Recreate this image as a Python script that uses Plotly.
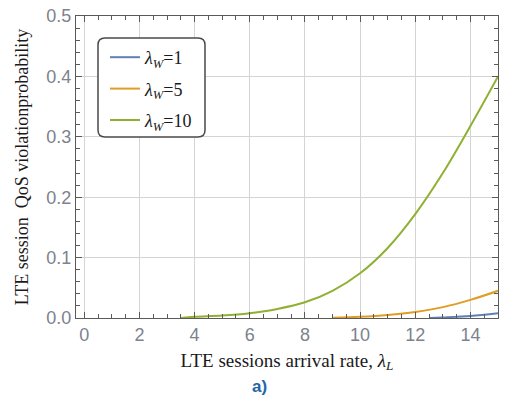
import plotly.graph_objects as go

# ---- data ----
green_x = [3.5, 4, 5, 6, 7, 8, 9, 10, 11, 12, 13, 14, 15]
green_y = [0.0, 0.002, 0.004, 0.008, 0.015, 0.026, 0.045, 0.074, 0.116, 0.172, 0.240, 0.318, 0.400]
orange_x = [9, 10, 11, 12, 13, 14, 15]
orange_y = [0.0003, 0.002, 0.005, 0.010, 0.018, 0.030, 0.045]
blue_x = [12.5, 13, 14, 15]
blue_y = [0.0, 0.001, 0.0035, 0.008]

series_names = ["<i>λ<sub>W</sub></i>=1", "<i>λ<sub>W</sub></i>=5", "<i>λ<sub>W</sub></i>=10"]
series_colors = ["#5E81B5", "#E19C24", "#8FB032"]
x_ticks = [0, 2, 4, 6, 8, 10, 12, 14]
x_labels = ["0", "2", "4", "6", "8", "10", "12", "14"]
y_ticks = [0.0, 0.1, 0.2, 0.3, 0.4, 0.5]
y_labels = ["0.0", "0.1", "0.2", "0.3", "0.4", "0.5"]

SERIF = "Liberation Serif"
SANS = "Liberation Sans"

fig = go.Figure()
for i, (xs, ys) in enumerate([(blue_x, blue_y), (orange_x, orange_y), (green_x, green_y)]):
    fig.add_trace(go.Scatter(
        x=xs, y=ys, mode="lines", name=series_names[i],
        line=dict(color=series_colors[i], width=2, shape="spline", smoothing=1.0),
        legendgroup=f"g{i}",
    ))

# plot area in pixels
L, R, T, B = 76, 10, 16, 83
W, H = 508, 401
pw, ph = W - L - R, H - T - B

def px_x(p):
    return (p - L) / pw

def px_y(p):
    return (H - B - p) / ph

# rounded legend box
x0, x1 = px_x(98), px_x(205)
y0, y1 = px_y(137), px_y(38)
rx, ry = 7 / pw, 7 / ph
path = (f"M {x0+rx},{y1} L {x1-rx},{y1} Q {x1},{y1} {x1},{y1-ry} "
        f"L {x1},{y0+ry} Q {x1},{y0} {x1-rx},{y0} L {x0+rx},{y0} "
        f"Q {x0},{y0} {x0},{y0+ry} L {x0},{y1-ry} Q {x0},{y1} {x0+rx},{y1} Z")
fig.add_shape(type="path", path=path, xref="paper", yref="paper",
              line=dict(color="#4a4a4a", width=1.5), fillcolor="white", layer="above")

fig.add_annotation(text="<b>a)</b>", xref="paper", yref="paper",
                   x=px_x(259), y=px_y(386), xanchor="center", yanchor="middle",
                   showarrow=False,
                   font=dict(family=SANS, size=17, color="#1F67A8"))

axis_common = dict(
    showline=True, linecolor="#5a5a5a", linewidth=1.2, mirror="allticks",
    ticks="inside", ticklen=6, tickcolor="#5a5a5a", tickwidth=1,
    showgrid=True, gridcolor="#d4d4d4", gridwidth=1,
    zeroline=False, automargin=False,
    tickfont=dict(family=SANS, size=18, color="#7d828c"),
)

fig.update_xaxes(
    **axis_common,
    range=[-0.3, 15], tickvals=x_ticks, ticktext=x_labels,
    minor=dict(dtick=0.5, ticks="inside", ticklen=3.5, tickcolor="#5a5a5a", showgrid=False),
    title=dict(text="LTE sessions arrival rate, <i>λ<sub>L</sub></i>",
               font=dict(family=SERIF, size=19, color="#1a1a1a"), standoff=9),
)
fig.update_yaxes(
    **axis_common,
    range=[0, 0.5], tickvals=y_ticks, ticktext=y_labels,
    minor=dict(dtick=0.02, ticks="inside", ticklen=3.5, tickcolor="#5a5a5a", showgrid=False),
    title=dict(text="LTE session\u00a0 QoS violationprobability",
               font=dict(family=SERIF, size=18, color="#1a1a1a"), standoff=12),
)

fig.update_layout(
    width=W, height=H,
    margin=dict(l=L, r=R, t=T, b=B),
    paper_bgcolor="white", plot_bgcolor="white",
    showlegend=True,
    legend=dict(
        x=px_x(105), y=px_y(39), xanchor="left", yanchor="top",
        bgcolor="rgba(0,0,0,0)", borderwidth=0,
        font=dict(family=SERIF, size=18, color="#1a1a1a"),
        tracegroupgap=5, itemwidth=30,
    ),
)

fig.write_html("out.html", config={"displayModeBar": False},
               post_script=["document.body.style.margin='0';document.body.style.overflow='hidden';"])
